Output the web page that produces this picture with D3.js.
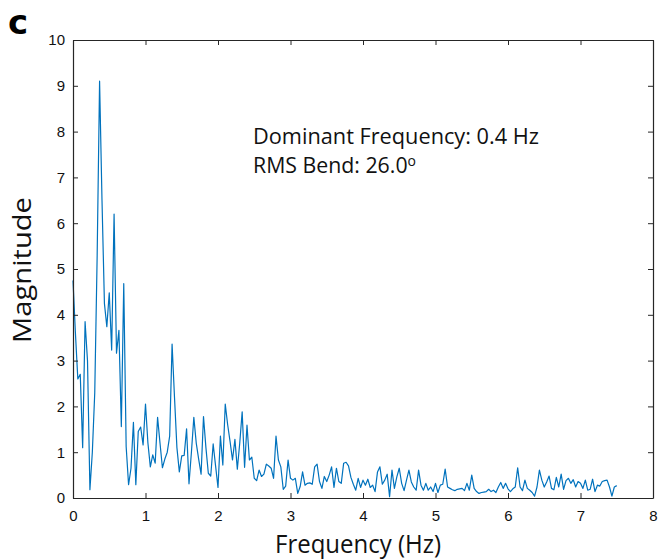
<!DOCTYPE html>
<html><head><meta charset="utf-8">
<script src="https://cdn.jsdelivr.net/npm/d3@7"></script>
<style>body{margin:0;background:#fff}svg{display:block}</style>
</head><body><svg id="c" width="660" height="560"></svg>
<script>
const freqStep = 1/30; // Hz between spectrum bins
const magnitudes = [
4.75,3.6,2.6,2.7,1.1,3.85,3.0,0.18,1.0,2.3,
5.3,9.1,6.5,4.25,3.74,4.48,3.23,6.2,3.16,3.66,
1.56,4.68,1.12,0.29,0.65,1.65,0.29,1.45,1.55,1.16,
2.05,1.2,0.68,0.94,0.76,1.76,1.2,0.66,0.85,1.0,
1.35,3.36,2.2,1.1,0.57,0.92,0.93,1.51,0.31,1.0,
1.76,1.2,0.85,0.52,1.78,1.1,0.54,0.48,1.18,0.7,
0.23,1.35,0.72,2.05,1.6,1.23,0.83,1.28,0.63,1.2,
1.88,0.67,1.59,0.83,0.89,0.43,0.38,0.61,0.47,0.52,
0.74,0.7,0.65,0.43,1.35,0.83,0.68,0.19,0.26,0.83,
0.43,0.39,0.43,0.1,0.25,0.57,0.28,0.32,0.33,0.3,
0.68,0.74,0.36,0.21,0.47,0.36,0.5,0.68,0.23,0.65,
0.36,0.32,0.76,0.78,0.7,0.45,0.3,0.17,0.43,0.23,
0.39,0.28,0.41,0.23,0.28,0.14,0.57,0.68,0.3,0.39,
0.52,0.03,0.61,0.21,0.46,0.65,0.32,0.16,0.39,0.61,
0.35,0.24,0.17,0.61,0.28,0.17,0.32,0.17,0.24,0.14,
0.32,0.12,0.28,0.3,0.63,0.24,0.21,0.18,0.16,0.19,
0.2,0.21,0.16,0.32,0.17,0.5,0.21,0.14,0.1,0.12,
0.13,0.14,0.19,0.14,0.17,0.12,0.24,0.34,0.21,0.32,
0.2,0.14,0.2,0.24,0.66,0.24,0.16,0.39,0.21,0.17,
0.12,0.04,0.24,0.61,0.39,0.24,0.35,0.48,0.21,0.18,
0.45,0.24,0.52,0.19,0.38,0.43,0.32,0.4,0.24,0.36,
0.32,0.21,0.39,0.17,0.19,0.41,0.14,0.28,0.26,0.36,
0.38,0.39,0.24,0.04,0.24,0.27];
const xTicks = [0,1,2,3,4,5,6,7,8];
const yTicks = [0,1,2,3,4,5,6,7,8,9,10];
const panelLabel = "c";
const xLabel = "Frequency (Hz)";
const yLabel = "Magnitude";
const annotLine1 = "Dominant Frequency: 0.4 Hz";
const annotLine2 = "RMS Bend: 26.0";

(function(){
const data = magnitudes.map((v,i)=>({f:i*freqStep, m:v}));
const svg = d3.select("#c");
const L=73, R=653, T=40, B=498;
const x = d3.scaleLinear().domain([0,8]).range([L,R]);
const y = d3.scaleLinear().domain([0,10]).range([B,T]);
const axCol = "#262626";
const tickFont = "'Liberation Sans', Arial, sans-serif";
const labFont = "'Open Sans', 'Noto Sans', sans-serif";

svg.append("path").datum(data)
  .attr("fill","none").attr("stroke","#0072BD").attr("stroke-width",1.2)
  .attr("stroke-linejoin","round")
  .attr("d", d3.line().x(d=>x(d.f)).y(d=>y(d.m)));

const gB = svg.append("g").attr("transform",`translate(0,${B})`)
  .call(d3.axisBottom(x).tickValues(xTicks).tickSizeInner(-5).tickSizeOuter(0).tickPadding(12));
const gL = svg.append("g").attr("transform",`translate(${L},0)`)
  .call(d3.axisLeft(y).tickValues(yTicks).tickSizeInner(-5).tickSizeOuter(0).tickPadding(8));
const gT = svg.append("g").attr("transform",`translate(0,${T})`)
  .call(d3.axisTop(x).tickValues(xTicks).tickSizeInner(-5).tickSizeOuter(0).tickFormat(""));
const gR = svg.append("g").attr("transform",`translate(${R},0)`)
  .call(d3.axisRight(y).tickValues(yTicks).tickSizeInner(-5).tickSizeOuter(0).tickFormat(""));
[gB,gL,gT,gR].forEach(g=>{
  g.selectAll("path").attr("stroke",axCol).attr("stroke-width",1.2);
  g.selectAll("line").attr("stroke",axCol).attr("stroke-width",1);
  g.selectAll("text").attr("fill","#111").style("font-family",tickFont).style("font-size","15px");
});

svg.append("text").attr("x",358).attr("y",553).attr("text-anchor","middle")
  .attr("textLength",166).attr("lengthAdjust","spacingAndGlyphs")
  .style("font-family",labFont).style("font-size","25px").attr("fill","#111").text(xLabel);
svg.append("text").attr("transform","translate(31,270) rotate(-90)").attr("text-anchor","middle")
  .attr("textLength",146).attr("lengthAdjust","spacingAndGlyphs")
  .style("font-family",labFont).style("font-size","25px").attr("fill","#111").text(yLabel);
svg.append("text").attr("x",8).attr("y",34)
  .style("font-family","'DejaVu Sans', sans-serif").style("font-weight","bold").style("font-size","34px").attr("fill","#000").text(panelLabel);

svg.append("text").attr("x",253).attr("y",144)
  .attr("textLength",286).attr("lengthAdjust","spacingAndGlyphs")
  .style("font-family",labFont).style("font-size","21.8px").attr("fill","#111").text(annotLine1);
const t2 = svg.append("text").attr("x",253).attr("y",173)
  .style("font-family",labFont).style("font-size","21.3px").attr("fill","#111").text(annotLine2);
t2.append("tspan").attr("dy",-7).style("font-size","14px").text("o");
})();
</script></body></html>
